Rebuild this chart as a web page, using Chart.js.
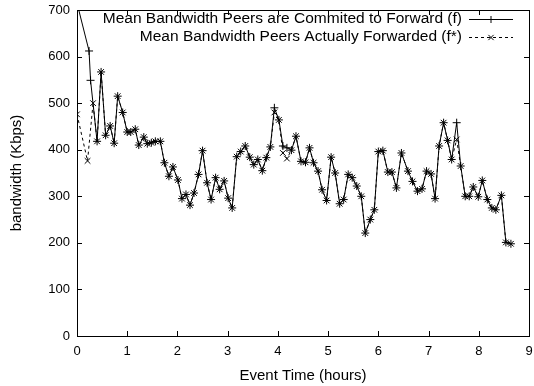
<!DOCTYPE html>
<html><head><meta charset="utf-8">
<script src="https://cdn.jsdelivr.net/npm/chart.js@4/dist/chart.umd.min.js"></script>
<style>html,body{margin:0;padding:0;background:#fff}canvas{display:block}</style>
</head><body>
<canvas id="c" width="534" height="386"></canvas>
<script>
const seriesNames = ["Mean Bandwidth Peers are Commited to Forward (f)", "Mean Bandwidth Peers Actually Forwarded (f*)"];
const xTitle = "Event Time (hours)";
const yTitle = "bandwidth (Kbps)";
const xTicks = [0,1,2,3,4,5,6,7,8,9];
const yTicks = [0,100,200,300,400,500,600,700];

const timeF = [0,0.24,0.27,0.40,0.48,0.57,0.66,0.74,0.81,0.91,1.00,1.07,1.16,1.23,1.33,1.40,1.48,1.56,1.66,1.74,1.83,1.91,2.01,2.09,2.17,2.25,2.33,2.42,2.50,2.59,2.67,2.76,2.84,2.93,3.01,3.09,3.18,3.26,3.35,3.44,3.52,3.60,3.69,3.77,3.85,3.93,4.02,4.10,4.18,4.27,4.36,4.46,4.55,4.63,4.71,4.80,4.88,4.97,5.06,5.14,5.23,5.31,5.40,5.48,5.57,5.66,5.74,5.84,5.92,6.00,6.09,6.19,6.27,6.36,6.46,6.59,6.68,6.78,6.87,6.96,7.05,7.13,7.21,7.30,7.38,7.46,7.56,7.64,7.73,7.81,7.89,7.99,8.07,8.17,8.26,8.34,8.45,8.54,8.64];
const valueF = [715,612,549,418,567,431,451,414,515,480,438,438,444,410,427,413,415,418,418,372,343,363,335,295,304,281,307,347,398,329,293,340,315,333,296,275,385,396,408,384,368,379,355,383,406,490,464,408,404,399,429,375,373,404,372,354,314,291,384,350,284,293,347,340,322,300,221,250,271,396,398,352,352,318,393,354,332,311,316,354,348,295,408,458,420,379,458,365,300,300,320,299,334,293,275,271,302,201,198];

const timeFStar = [0,0.21,0.32,0.40,0.48,0.57,0.66,0.74,0.81,0.91,1.00,1.07,1.16,1.23,1.33,1.40,1.48,1.56,1.66,1.74,1.83,1.91,2.01,2.09,2.17,2.25,2.33,2.42,2.50,2.59,2.67,2.76,2.84,2.93,3.01,3.09,3.18,3.26,3.35,3.44,3.52,3.60,3.69,3.77,3.85,3.93,4.02,4.10,4.18,4.27,4.36,4.46,4.55,4.63,4.71,4.80,4.88,4.97,5.06,5.14,5.23,5.31,5.40,5.48,5.57,5.66,5.74,5.84,5.92,6.00,6.09,6.19,6.27,6.36,6.46,6.59,6.68,6.78,6.87,6.96,7.05,7.13,7.21,7.30,7.38,7.46,7.56,7.64,7.73,7.81,7.89,7.99,8.07,8.17,8.26,8.34,8.45,8.54,8.64];
const valueFStar = [476,376,500,418,567,431,451,414,515,480,438,438,444,410,427,413,415,418,418,372,343,363,335,295,304,281,307,347,398,329,293,340,315,333,296,275,385,396,408,384,368,379,355,383,406,480,464,393,381,399,429,375,373,404,372,354,314,291,384,350,284,293,347,340,322,300,221,250,271,396,398,352,352,318,393,354,332,311,316,354,348,295,408,458,420,379,422,365,300,300,320,299,334,293,275,271,302,201,198];

const FONT = '"Liberation Sans", Arial, Helvetica, sans-serif';

const framePlugin = {
  id: 'frame',
  afterDatasetsDraw(chart) {
    const {ctx, chartArea: a, scales} = chart;
    ctx.save();
    ctx.strokeStyle = '#000';
    ctx.lineWidth = 1;
    ctx.beginPath();
    const tl = 5;
    xTicks.forEach(v => {
      const x = Math.round(scales.x.getPixelForValue(v)) + 0.5;
      ctx.moveTo(x, a.bottom); ctx.lineTo(x, a.bottom - tl);
      ctx.moveTo(x, a.top); ctx.lineTo(x, a.top + tl);
    });
    yTicks.forEach(v => {
      const y = Math.round(scales.y.getPixelForValue(v)) + 0.5;
      ctx.moveTo(a.left, y); ctx.lineTo(a.left + tl, y);
      ctx.moveTo(a.right, y); ctx.lineTo(a.right - tl, y);
    });
    ctx.stroke();
    ctx.strokeRect(Math.round(a.left)+0.5, Math.round(a.top)+0.5, Math.round(a.right-a.left), Math.round(a.bottom-a.top));
    // legend
    ctx.font = '15.5px ' + FONT;
    ctx.fillStyle = '#000';
    ctx.textAlign = 'right';
    ctx.textBaseline = 'middle';
    const rows = [19, 37];
    const tx = 462, l0 = 469, l1 = 513, mx = 491, r = 3.5;
    chart.data.datasets.forEach((ds, i) => {
      const y = rows[i] + 0.5;
      ctx.fillText(ds.label, tx, rows[i]);
      ctx.beginPath();
      ctx.setLineDash(ds.borderDash || []);
      ctx.moveTo(l0, y); ctx.lineTo(l1, y);
      ctx.stroke();
      ctx.setLineDash([]);
      ctx.beginPath();
      if (ds.pointStyle === 'cross') {
        ctx.moveTo(mx - r, y); ctx.lineTo(mx + r, y);
        ctx.moveTo(mx, y - r); ctx.lineTo(mx, y + r);
      } else {
        ctx.moveTo(mx - r*0.75, y - r*0.75); ctx.lineTo(mx + r*0.75, y + r*0.75);
        ctx.moveTo(mx - r*0.75, y + r*0.75); ctx.lineTo(mx + r*0.75, y - r*0.75);
      }
      ctx.stroke();
    });
    ctx.restore();
  }
};

new Chart(document.getElementById('c'), {
  type: 'line',
  data: {
    datasets: [
      {
        label: seriesNames[0],
        data: timeF.map((t, i) => ({x: t, y: valueF[i]})),
        borderColor: '#000', borderWidth: 1, tension: 0,
        pointStyle: 'cross', pointRadius: 4, pointBorderColor: '#000', pointBorderWidth: 1,
        pointBackgroundColor: '#000'
      },
      {
        label: seriesNames[1],
        data: timeFStar.map((t, i) => ({x: t, y: valueFStar[i]})),
        borderColor: '#000', borderWidth: 1, tension: 0, borderDash: [3, 3],
        pointStyle: 'crossRot', pointRadius: 4, pointBorderColor: '#000', pointBorderWidth: 1,
        pointBackgroundColor: '#000'
      }
    ]
  },
  options: {
    responsive: false, animation: false, devicePixelRatio: 1,
    layout: {padding: {top: 10, right: 4, left: 0, bottom: 0}},
    plugins: {legend: {display: false}, tooltip: {enabled: false}},
    scales: {
      x: {
        type: 'linear', min: 0, max: 9,
        afterFit(s) { s.height = 50; s.paddingLeft = 0; s.paddingRight = 0; },
        afterBuildTicks(s) { s.ticks = xTicks.map(v => ({value: v})); },
        grid: {display: false, drawTicks: false},
        border: {display: false},
        ticks: {color: '#000', font: {family: FONT, size: 13}, padding: 8, maxRotation: 0},
        title: {display: true, text: xTitle, color: '#000', font: {family: FONT, size: 15}, padding: {top: 0, bottom: 1}}
      },
      y: {
        type: 'linear', min: 0, max: 700,
        afterFit(s) { s.width = 77; s.paddingTop = 0; s.paddingBottom = 0; },
        afterBuildTicks(s) { s.ticks = yTicks.map(v => ({value: v})); },
        grid: {display: false, drawTicks: false},
        border: {display: false},
        ticks: {color: '#000', font: {family: FONT, size: 13}, padding: 7},
        title: {display: true, text: yTitle, color: '#000', font: {family: FONT, size: 15}, padding: {top: 8, bottom: 0}}
      }
    }
  },
  plugins: [framePlugin]
});
</script>
</body></html>
